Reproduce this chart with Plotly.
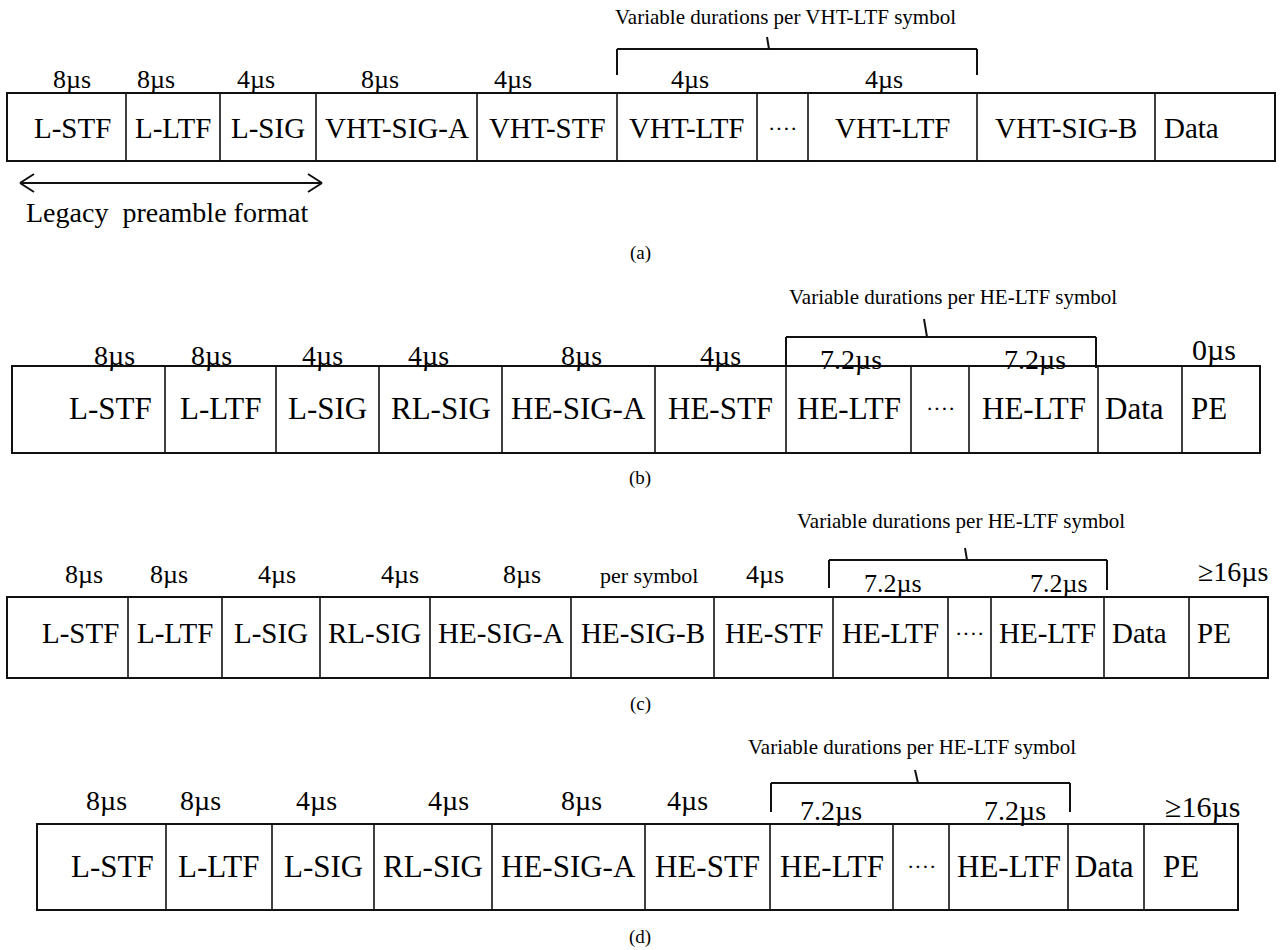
import plotly.graph_objects as go

# ---------------------------------------------------------------
# PPDU field sequences (a) VHT, (b) HE SU, (c) HE MU, (d) HE ER SU
# edges = field boundaries along the diagram's horizontal axis
# ---------------------------------------------------------------
a_fields = ["L-STF", "L-LTF", "L-SIG", "VHT-SIG-A", "VHT-STF", "VHT-LTF", "····", "VHT-LTF", "VHT-SIG-B", "Data"]
a_edges = [7, 126, 220, 316, 477, 617, 757, 808, 977, 1155, 1275]
a_durations = ["8µs", "8µs", "4µs", "8µs", "4µs", "4µs", "", "4µs", "", ""]

b_fields = ["L-STF", "L-LTF", "L-SIG", "RL-SIG", "HE-SIG-A", "HE-STF", "HE-LTF", "····", "HE-LTF", "Data", "PE"]
b_edges = [12, 165, 276, 379, 502, 655, 786, 911, 969, 1098, 1182, 1260]
b_durations = ["8µs", "8µs", "4µs", "4µs", "8µs", "4µs", "7.2µs", "", "7.2µs", "", "0µs"]

c_fields = ["L-STF", "L-LTF", "L-SIG", "RL-SIG", "HE-SIG-A", "HE-SIG-B", "HE-STF", "HE-LTF", "····", "HE-LTF", "Data", "PE"]
c_edges = [7, 128, 222, 320, 430, 571, 714, 833, 948, 991, 1104, 1189, 1268]
c_durations = ["8µs", "8µs", "4µs", "4µs", "8µs", "per symbol", "4µs", "7.2µs", "", "7.2µs", "", "≥16µs"]

d_fields = ["L-STF", "L-LTF", "L-SIG", "RL-SIG", "HE-SIG-A", "HE-STF", "HE-LTF", "····", "HE-LTF", "Data", "PE"]
d_edges = [37, 166, 272, 374, 492, 645, 770, 893, 949, 1068, 1144, 1238]
d_durations = ["8µs", "8µs", "4µs", "4µs", "8µs", "4µs", "7.2µs", "", "7.2µs", "", "≥16µs"]

captions = ["(a)", "(b)", "(c)", "(d)"]
bracket_titles = [
    "Variable durations per VHT-LTF symbol",
    "Variable durations per HE-LTF symbol",
    "Variable durations per HE-LTF symbol",
    "Variable durations per HE-LTF symbol",
]
legacy_text = "Legacy  preamble format"

# ---------------------------------------------------------------
# drawing geometry (pixel-like units, y grows downward)
# ---------------------------------------------------------------
FONT = "Liberation Serif, Times New Roman, serif"
INK = "#111111"

panels = [
    dict(fields=a_fields, edges=a_edges, durs=a_durations,
         top=93, bot=161, label_y=128, dur_y=79, fsize=29, dsize=26,
         label_nudge={0: (6, 0), 9: ("left", 7)},
         dur_nudge=[(5, 0), (-17, 0), (-12, 0), (-17, 0), (-34, 0), (3, 0), (0, 0), (-9, 0), (0, 0), (0, 0)],
         bracket=dict(x0=617, x1=977, y=49, yb0=75, yb1=75, tick=(767, 769, 37), title_xy=(785, 17)),
         caption_y=253),
    dict(fields=b_fields, edges=b_edges, durs=b_durations,
         top=366, bot=453, label_y=408, dur_y=355, fsize=31, dsize=28,
         label_nudge={0: (22, 0), 9: ("left", 5), 10: (-12, 0)},
         dur_nudge=[(26, 0), (-9, 0), (-5, 0), (-12, 0), (3, 0), (0, 0), (2, 4), (0, 0), (1, 4), (0, 0), (-7, -6)],
         bracket=dict(x0=786, x1=1096, y=337, yb0=366, yb1=368, tick=(924, 927, 319), title_xy=(953, 297)),
         caption_y=478),
    dict(fields=c_fields, edges=c_edges, durs=c_durations,
         top=597, bot=678, label_y=633, dur_y=574, fsize=29, dsize=26,
         label_nudge={0: (13, 0), 10: ("left", 6), 11: ("left", 6)},
         dur_nudge=[(16, 0), (-6, 0), (6, 0), (25, 0), (21, 0), (6, 1), (-9, 0), (2, 9), (0, 0), (11, 9), (0, 0), (4, -3)],
         bracket=dict(x0=829, x1=1107, y=560, yb0=588, yb1=590, tick=(965, 967, 548), title_xy=(961, 521)),
         caption_y=704),
    dict(fields=d_fields, edges=d_edges, durs=d_durations,
         top=824, bot=910, label_y=866, dur_y=800, fsize=31, dsize=28,
         label_nudge={0: (11, 0), 9: ("left", 5), 10: (-10, 0)},
         dur_nudge=[(5, 0), (-19, 0), (-7, 0), (15, 0), (13, 0), (-20, 0), (-1, 10), (0, 0), (6, 10), (0, 0), (11, 6)],
         bracket=dict(x0=771, x1=1070, y=783, yb0=812, yb1=812, tick=(915, 918, 770), title_xy=(912, 747)),
         caption_y=937),
]

fig = go.Figure()
shapes = []
annotations = []


def line(x0, y0, x1, y1, w=2):
    shapes.append(dict(type="line", xref="x", yref="y", x0=x0, y0=y0, x1=x1, y1=y1,
                       line=dict(color=INK, width=w)))


def text(x, y, s, size, anchor="center"):
    annotations.append(dict(x=x, y=y, xref="x", yref="y", text=s, showarrow=False,
                            xanchor=anchor, yanchor="middle",
                            font=dict(family=FONT, size=size, color="black")))


for i, p in enumerate(panels):
    edges = p["edges"]
    # outer frame of the PPDU
    shapes.append(dict(type="rect", xref="x", yref="y", x0=edges[0], x1=edges[-1],
                       y0=p["top"], y1=p["bot"], line=dict(color=INK, width=2)))
    # field separators
    for e in edges[1:-1]:
        line(e, p["top"], e, p["bot"], w=1.6)

    # field names
    for k, name in enumerate(p["fields"]):
        left, right = edges[k], edges[k + 1]
        size = 22 if name.startswith("·") else p["fsize"]
        nudge = p["label_nudge"].get(k, (0, 0))
        if nudge[0] == "left":
            text(left + nudge[1], p["label_y"], name, size, anchor="left")
        else:
            text((left + right) / 2 + nudge[0], p["label_y"] + nudge[1], name, size)

    # durations above the fields
    for k, dur in enumerate(p["durs"]):
        if not dur:
            continue
        dx, dy = p["dur_nudge"][k]
        size = p["dsize"]
        if dur == "per symbol":
            size = 22
        elif dur in ("0µs", "≥16µs"):
            size = p["dsize"] + 2
        text((edges[k] + edges[k + 1]) / 2 + dx, p["dur_y"] + dy, dur, size)

    # bracket spanning the LTF symbols
    b = p["bracket"]
    line(b["x0"], b["y"], b["x1"], b["y"])
    line(b["x0"], b["y"], b["x0"], b["yb0"])
    line(b["x1"], b["y"], b["x1"], b["yb1"])
    line(b["tick"][1], b["y"], b["tick"][0], b["tick"][2])
    text(b["title_xy"][0], b["title_xy"][1], bracket_titles[i], 21)

    text(640, p["caption_y"], captions[i], 19)

# double-headed arrow spanning the legacy preamble
ax0, ax1, ay = 20, 322, 183
line(ax0, ay, ax1, ay)
line(ax0, ay, ax0 + 14, ay - 9)
line(ax0, ay, ax0 + 14, ay + 9)
line(ax1, ay, ax1 - 14, ay - 9)
line(ax1, ay, ax1 - 14, ay + 9)
text(24, 212, legacy_text, 28, anchor="left")

fig.update_layout(
    width=1280, height=950,
    margin=dict(l=0, r=0, t=0, b=0),
    paper_bgcolor="white", plot_bgcolor="white",
    showlegend=False,
    shapes=shapes, annotations=annotations,
    xaxis=dict(range=[0, 1280], visible=False, fixedrange=True),
    yaxis=dict(range=[950, 0], visible=False, fixedrange=True),
)

fig.write_html("out.html")
